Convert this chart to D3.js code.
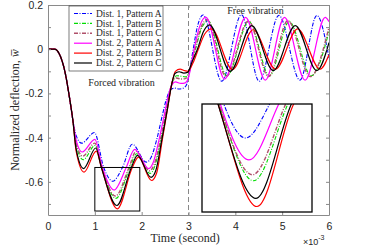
<!DOCTYPE html>
<html>
<head>
<meta charset="utf-8">
<script src="https://cdn.jsdelivr.net/npm/d3@7"></script>
<style>
  body { margin: 0; background: #fff; }
  svg { display: block; }
</style>
</head>
<body>
<div id="chart"></div>
<script>
// values: [time (x1e-3 s), normalized deflection]
var dist1PatA = [[0,0],[0.14,0],[0.25,-0.025],[0.36,-0.1],[0.46,-0.22],[0.53,-0.32],[0.6,-0.39],[0.72,-0.425],[0.99,-0.377],[1.19,-0.535],[1.38,-0.597],[1.59,-0.535],[1.8,-0.43],[2.1,-0.511],[2.2,-0.49],[2.32,-0.41],[2.44,-0.3],[2.53,-0.225],[2.62,-0.183],[2.7,-0.176],[2.8,-0.18],[2.9,-0.175],[2.97,-0.155],[3.03,-0.09],[3.1,0.0],[3.2,0.11],[3.31,0.155],[3.71,-0.145],[4.13,0.156],[4.51,-0.145],[4.93,0.153],[5.38,-0.14],[5.74,0.153],[6.0,-0.04]];
var dist1PatB = [[0,0],[0.14,0],[0.25,-0.025],[0.36,-0.1],[0.46,-0.22],[0.53,-0.32],[0.6,-0.43],[0.75,-0.5],[1.01,-0.435],[1.15,-0.535],[1.45,-0.675],[1.75,-0.535],[1.89,-0.473],[2.18,-0.562],[2.28,-0.53],[2.41,-0.41],[2.52,-0.29],[2.61,-0.19],[2.68,-0.135],[2.75,-0.12],[2.84,-0.122],[2.93,-0.125],[2.99,-0.115],[3.07,-0.06],[3.15,0.0],[3.28,0.095],[3.42,0.128],[3.82,-0.12],[4.29,0.125],[4.73,-0.12],[5.15,0.125],[5.62,-0.12],[6.0,0.08]];
var dist1PatC = [[0,0],[0.14,0],[0.25,-0.025],[0.36,-0.1],[0.46,-0.22],[0.53,-0.32],[0.6,-0.42],[0.74,-0.484],[1.0,-0.425],[1.15,-0.535],[1.44,-0.664],[1.73,-0.535],[1.88,-0.462],[2.17,-0.55],[2.27,-0.52],[2.4,-0.41],[2.51,-0.29],[2.6,-0.19],[2.67,-0.14],[2.74,-0.13],[2.84,-0.135],[2.93,-0.133],[2.99,-0.12],[3.06,-0.065],[3.14,0.0],[3.27,0.1],[3.4,0.133],[3.8,-0.124],[4.28,0.128],[4.71,-0.124],[5.12,0.129],[5.6,-0.124],[6.0,0.1]];
var dist2PatA = [[0,0],[0.14,0],[0.25,-0.025],[0.36,-0.1],[0.46,-0.22],[0.53,-0.32],[0.6,-0.41],[0.73,-0.465],[1.0,-0.408],[1.16,-0.535],[1.41,-0.637],[1.67,-0.535],[1.85,-0.453],[2.15,-0.54],[2.25,-0.51],[2.37,-0.41],[2.48,-0.3],[2.57,-0.21],[2.65,-0.16],[2.72,-0.148],[2.84,-0.155],[2.93,-0.152],[2.99,-0.135],[3.05,-0.08],[3.12,0.0],[3.25,0.11],[3.37,0.145],[3.77,-0.135],[4.22,0.144],[4.64,-0.14],[5.05,0.144],[5.49,-0.14],[5.92,0.144],[6.0,0.125]];
var dist2PatB = [[0,0],[0.14,0],[0.25,-0.025],[0.36,-0.1],[0.46,-0.22],[0.53,-0.32],[0.6,-0.46],[0.77,-0.556],[1.03,-0.461],[1.14,-0.535],[1.48,-0.722],[1.8,-0.535],[1.93,-0.488],[2.21,-0.594],[2.32,-0.56],[2.44,-0.41],[2.56,-0.26],[2.65,-0.15],[2.72,-0.1],[2.82,-0.09],[2.92,-0.097],[2.99,-0.1],[3.09,-0.065],[3.21,0.0],[3.35,0.07],[3.49,0.092],[3.94,-0.092],[4.38,0.088],[4.86,-0.09],[5.33,0.092],[5.81,-0.09],[6.0,-0.025]];
var dist2PatC = [[0,0],[0.14,0],[0.25,-0.025],[0.36,-0.1],[0.46,-0.22],[0.53,-0.32],[0.6,-0.45],[0.76,-0.54],[1.02,-0.447],[1.14,-0.535],[1.47,-0.707],[1.78,-0.535],[1.91,-0.48],[2.2,-0.58],[2.3,-0.55],[2.43,-0.41],[2.55,-0.27],[2.64,-0.16],[2.71,-0.11],[2.8,-0.102],[2.9,-0.108],[2.98,-0.105],[3.08,-0.055],[3.19,0.0],[3.32,0.08],[3.45,0.11],[3.89,-0.1],[4.35,0.107],[4.81,-0.097],[5.28,0.107],[5.74,-0.097],[6.0,0.03]];

var seriesNames = ["Dist. 1, Pattern A", "Dist. 1, Pattern B", "Dist. 1, Pattern C",
                   "Dist. 2, Pattern A", "Dist. 2, Pattern B", "Dist. 2, Pattern C"];
var xTicks = [0, 1, 2, 3, 4, 5, 6];
var yTicks = [-0.7, -0.6, -0.5, -0.4, -0.3, -0.2, -0.1, 0, 0.1, 0.2];
var yTickLabels = ["", "-0.6", "", "-0.4", "", "-0.2", "", "0", "", "0.2"];
var zoomBoxX = [1.0, 1.96];
var zoomBoxY = [-0.732, -0.535];

var series = [
  { name: seriesNames[0], data: dist1PatA, color: "#0000ff", dash: "4,1.5,1,1.5", width: 1.1 },
  { name: seriesNames[1], data: dist1PatB, color: "#00dd00", dash: "4,1.5,1,1.5", width: 1.1 },
  { name: seriesNames[2], data: dist1PatC, color: "#b0506a", dash: "4,1.5,1,1.5", width: 1.4 },
  { name: seriesNames[3], data: dist2PatA, color: "#ff00ff", dash: null, width: 1.2 },
  { name: seriesNames[4], data: dist2PatB, color: "#ff0000", dash: null, width: 1.2 },
  { name: seriesNames[5], data: dist2PatC, color: "#000000", dash: null, width: 1.2 }
];

var W = 378, H = 247;
var margin = {top: 5, right: 49, bottom: 32, left: 48};
var width = W - margin.left - margin.right,
    height = H - margin.top - margin.bottom;
var axisColor = "#8a8a8a", textColor = "#262626";
var serif = "'Liberation Serif', 'DejaVu Serif', serif";
var sans = "'Liberation Sans', Arial, sans-serif";

var svg = d3.select("#chart").append("svg")
    .attr("width", W).attr("height", H);

var g = svg.append("g")
    .attr("transform", "translate(" + margin.left + "," + margin.top + ")");

var x = d3.scaleLinear().domain([0, 6]).range([0, width]);
var y = d3.scaleLinear().domain([-0.75, 0.2]).range([height, 0]);

g.append("clipPath").attr("id", "plotclip")
  .append("rect").attr("width", width).attr("height", height);

// dashed separator between forced and free vibration
g.append("line")
    .attr("x1", x(3)).attr("x2", x(3))
    .attr("y1", 0).attr("y2", height)
    .attr("stroke", "#888").attr("stroke-width", 1)
    .attr("stroke-dasharray", "5,3");

function drawLines(parent, xs, ys) {
  var line = d3.line()
      .x(function(d) { return xs(d[0]); })
      .y(function(d) { return ys(d[1]); })
      .curve(d3.curveMonotoneX);
  parent.selectAll("path.series")
    .data(series)
    .enter().append("path")
      .attr("class", "series")
      .attr("d", function(d) { return line(d.data); })
      .attr("fill", "none")
      .attr("stroke", function(d) { return d.color; })
      .attr("stroke-width", function(d) { return d.width; })
      .attr("stroke-dasharray", function(d) { return d.dash; });
}

drawLines(g.append("g").attr("clip-path", "url(#plotclip)"), x, y);

// axes, MATLAB style box with inward ticks
var fmtY = function(d, i) { return yTickLabels[i]; };
g.append("g")
    .call(d3.axisLeft(y).tickValues(yTicks).tickFormat(fmtY).tickSizeInner(-3).tickSizeOuter(0).tickPadding(5));
g.append("g").attr("transform", "translate(" + width + ",0)")
    .call(d3.axisRight(y).tickValues(yTicks).tickFormat("").tickSizeInner(-3).tickSizeOuter(0));
g.append("g").attr("transform", "translate(0," + height + ")")
    .call(d3.axisBottom(x).tickValues(xTicks).tickFormat(d3.format("d")).tickSizeInner(-3).tickSizeOuter(0).tickPadding(8));
g.append("g")
    .call(d3.axisTop(x).tickValues(xTicks).tickFormat("").tickSizeInner(-3).tickSizeOuter(0));

g.selectAll(".domain, .tick line").attr("stroke", axisColor);
g.selectAll(".tick text")
    .attr("fill", textColor)
    .style("font-family", sans)
    .style("font-size", "10.5px");

// small box marking the zoomed region
g.append("rect")
    .attr("x", x(zoomBoxX[0])).attr("y", y(zoomBoxY[1]))
    .attr("width", x(zoomBoxX[1]) - x(zoomBoxX[0]))
    .attr("height", y(zoomBoxY[0]) - y(zoomBoxY[1]))
    .attr("fill", "none").attr("stroke", "#000").attr("stroke-width", 1);

// zoomed inset
var inset = {x: 154, y: 99, w: 110, h: 108};
var xi = d3.scaleLinear().domain(zoomBoxX).range([inset.x, inset.x + inset.w]);
var yi = d3.scaleLinear().domain(zoomBoxY).range([inset.y + inset.h, inset.y]);
g.append("clipPath").attr("id", "insetclip")
  .append("rect").attr("x", inset.x).attr("y", inset.y).attr("width", inset.w).attr("height", inset.h);
g.append("rect")
    .attr("x", inset.x).attr("y", inset.y).attr("width", inset.w).attr("height", inset.h)
    .attr("fill", "#fff");
drawLines(g.append("g").attr("clip-path", "url(#insetclip)"), xi, yi);
g.append("rect")
    .attr("x", inset.x).attr("y", inset.y).attr("width", inset.w).attr("height", inset.h)
    .attr("fill", "none").attr("stroke", "#000").attr("stroke-width", 1.3);

// annotations
g.append("text").attr("x", x(1.57)).attr("y", 81)
    .attr("text-anchor", "middle").attr("fill", textColor)
    .style("font-family", serif).style("font-size", "10px")
    .text("Forced vibration");
g.append("text").attr("x", x(4.43)).attr("y", 9)
    .attr("text-anchor", "middle").attr("fill", textColor)
    .style("font-family", serif).style("font-size", "10px")
    .text("Free vibration");

// legend
var leg = g.append("g").attr("transform", "translate(21,1)");
leg.append("rect").attr("width", 94).attr("height", 65)
    .attr("fill", "#fff").attr("stroke", "#262626").attr("stroke-width", 0.6);
var item = leg.selectAll("g.item").data(series).enter().append("g")
    .attr("class", "item")
    .attr("transform", function(d, i) { return "translate(0," + (7.5 + i * 9.9) + ")"; });
item.append("line")
    .attr("x1", 5).attr("x2", 23)
    .attr("stroke", function(d) { return d.color; })
    .attr("stroke-width", function(d) { return d.width; })
    .attr("stroke-dasharray", function(d) { return d.dash; });
item.append("text").attr("x", 27).attr("dy", "0.33em")
    .attr("fill", textColor)
    .style("font-family", serif).style("font-size", "9.5px")
    .text(function(d) { return d.name; });

// axis labels
svg.append("text")
    .attr("x", margin.left + x(2.93)).attr("y", 242)
    .attr("text-anchor", "middle").attr("fill", textColor)
    .style("font-family", serif).style("font-size", "12px")
    .text("Time (second)");

var yl = svg.append("text")
    .attr("transform", "translate(19," + (margin.top + y(-0.275)) + ") rotate(-90)")
    .attr("text-anchor", "middle").attr("fill", textColor)
    .style("font-family", serif).style("font-size", "12px");
yl.append("tspan").text("Normalized deflection, ");
yl.append("tspan").style("font-style", "italic").text("w\u0305");

var ex = svg.append("text")
    .attr("x", 303).attr("y", 245)
    .attr("fill", textColor)
    .style("font-family", sans).style("font-size", "9px");
ex.append("tspan").text("\u00d710");
ex.append("tspan").attr("dy", -5).style("font-size", "7px").text("-3");
</script>
</body>
</html>
